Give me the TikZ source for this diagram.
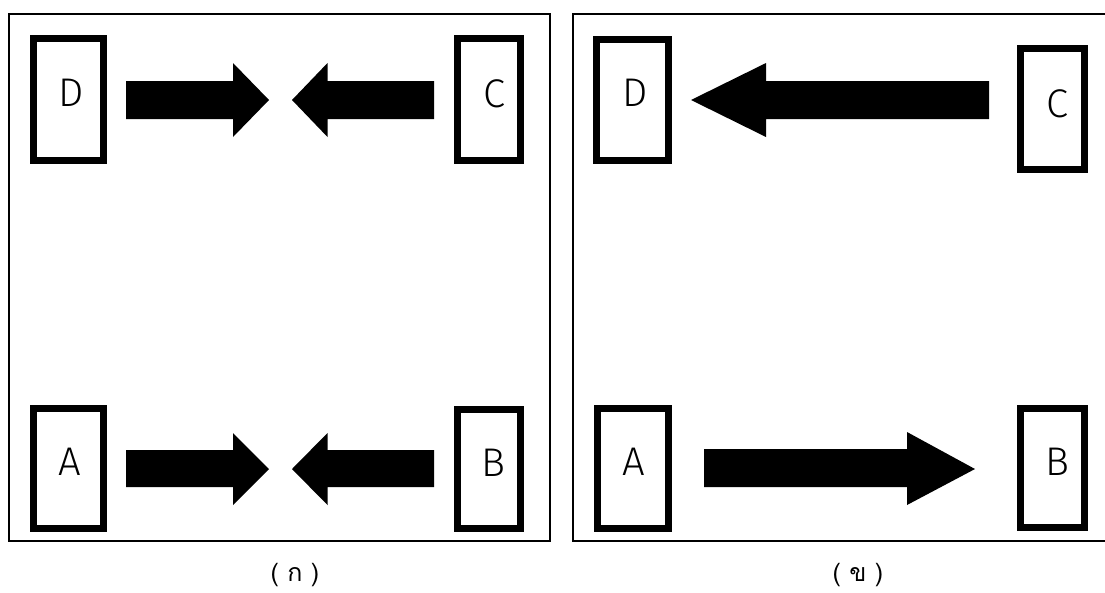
\documentclass[tikz,border=0pt]{standalone}
\usepackage{fontspec}
\newfontfamily\lblfont{Fira Sans}[UprightFont=* Light]
\newfontfamily\thaifont[Script=Thai]{Loma}
\begin{document}
\begin{tikzpicture}[x=1pt,y=-1pt,
  frame/.style={draw=black,line width=1.5pt},
  boxnode/.style={draw=black,line width=7pt,inner sep=0pt,fill=white},
  lbl/.style={font=\lblfont\fontsize{40}{40}\selectfont,inner sep=0pt},
  captext/.style={font=\thaifont\fontsize{25}{25}\selectfont,inner sep=0pt},
  blockarrow/.style={fill=black,draw=none}]
\useasboundingbox (0,0) rectangle (1105,592);
\fill[white] (0,0) rectangle (1105,592);
% frames
\draw[frame] (9,14) rectangle (550,541);
\draw[frame] (1110,14) -- (573,14) -- (573,541) -- (1110,541);
% left panel boxes
\node[boxnode,minimum width=70pt,minimum height=122pt] (LD) at (68.5,99.5) {};
\node[boxnode,minimum width=63pt,minimum height=122pt] (LC) at (489,99.5) {};
\node[boxnode,minimum width=70pt,minimum height=120pt] (LA) at (68.5,468.5) {};
\node[boxnode,minimum width=63pt,minimum height=119pt] (LB) at (489,469) {};
\node[lbl] (tLD) at (71,93) {D};
\node[lbl] (tLC) at (494,93.5) {C};
\node[lbl] (tLA) at (70,462) {A};
\node[lbl] (tLB) at (493.5,463) {B};
% left panel arrows
\fill[blockarrow] (126,81) -- (233,81) -- (233,63) -- (269,100) -- (233,137) -- (233,119) -- (126,119) -- cycle;
\fill[blockarrow] (434,81) -- (327.5,81) -- (327.5,63) -- (292,100) -- (327.5,137) -- (327.5,119) -- (434,119) -- cycle;
\fill[blockarrow] (126,450) -- (233,450) -- (233,433) -- (269,469) -- (233,505) -- (233,487) -- (126,487) -- cycle;
\fill[blockarrow] (434,450) -- (327.5,450) -- (327.5,433) -- (292,469) -- (327.5,505) -- (327.5,487) -- (434,487) -- cycle;
% right panel boxes
\node[boxnode,minimum width=72pt,minimum height=121pt] (RD) at (632.5,100) {};
\node[boxnode,minimum width=64pt,minimum height=121pt] (RC) at (1052.5,109) {};
\node[boxnode,minimum width=71pt,minimum height=120pt] (RA) at (633,468.5) {};
\node[boxnode,minimum width=64pt,minimum height=119pt] (RB) at (1052.5,468) {};
\node[lbl] (tRD) at (635,93) {D};
\node[lbl] (tRC) at (1057,103.5) {C};
\node[lbl] (tRA) at (634,462) {A};
\node[lbl] (tRB) at (1057,461.5) {B};
% right panel arrows
\fill[blockarrow] (989,81) -- (766,81) -- (766,63) -- (691,100) -- (766,137) -- (766,119) -- (989,119) -- cycle;
\fill[blockarrow] (704,449) -- (907,449) -- (907,432) -- (975,469) -- (907,505) -- (907,487) -- (704,487) -- cycle;
% captions
\node[captext] (capL) at (295,575) {( ก )};
\node[captext] (capR) at (858,575) {( ข )};
\end{tikzpicture}
\end{document}
